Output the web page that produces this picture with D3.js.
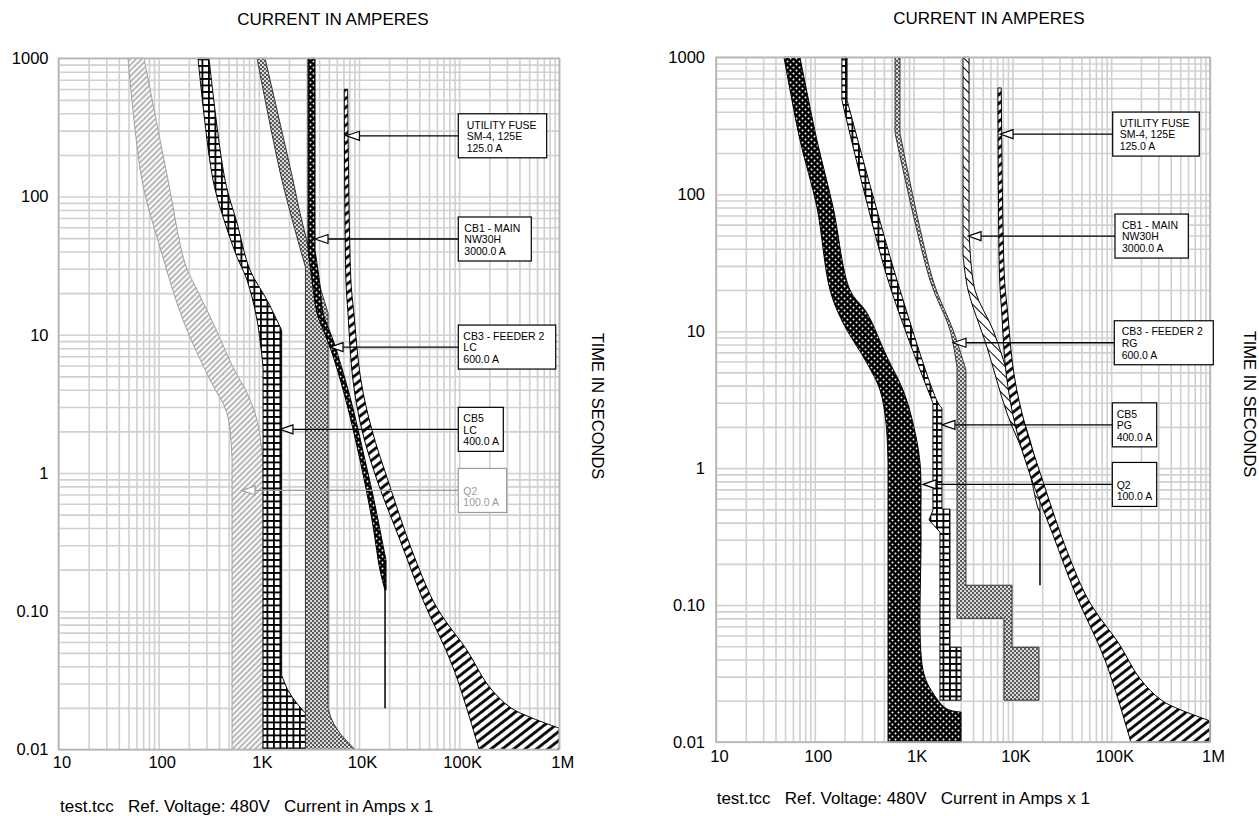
<!DOCTYPE html>
<html><head><meta charset="utf-8">
<script src="https://cdn.jsdelivr.net/npm/d3@7"></script>
<style>
body{margin:0;background:#fff}
svg{display:block}
text{font-family:"Liberation Sans",Arial,Helvetica,sans-serif;fill:#000}
</style>
</head><body>
<svg id="chart" width="1259" height="816"></svg>
<script>
// ---------------- DATA ----------------
const xTickValues = [10, 100, 1000, 10000, 100000, 1000000];
const xTickLabels = ["10", "100", "1K", "10K", "100K", "1M"];
const yTickValues = [1000, 100, 10, 1, 0.1, 0.01];
const yTickLabels = ["1000", "100", "10", "1", "0.10", "0.01"];
const xTitle = "CURRENT IN AMPERES";
const yTitle = "TIME IN SECONDS";
const footerText = "test.tcc   Ref. Voltage: 480V   Current in Amps x 1";

// band outlines as [amperes, seconds]
const fuseBand = [[7130,597],[7410,24.9],[7760,14.4],[8710,4.70],[10710,2.04],[15140,0.889],[25700,0.327],[43650,0.120],[86900,0.0394],[158100,0.01],
  [1000000,0.01],[1000000,0.01426],[509000,0.01714],[322000,0.0202],[194000,0.0292],[119700,0.0523],[72100,0.0863],[54700,0.120],[33700,0.277],[19420,0.889],[13490,2.04],[10450,4.70],[8890,14.4],[8300,24.9],[7710,597]];

const leftQ2Band = [[49.4,1000],[68.2,131.6],[103,43.1],[175,12.8],[326,4.70],[481,2.71],[540,1.24],[540,0.01],
  [1102,0.01],[1102,1.24],[960,2.41],[762,3.79],[552,5.84],[349,12.2],[242,21.1],[183,33.0],[124,131.6],[71.5,1000]];
const leftCB5Band = [[247,1000],[349,131.6],[460,64.3],[606,36.5],[762,24.9],[960,12.8],[1102,5.84],[1102,0.01],
  [2920,0.01],[2920,0.0183],[2350,0.022],[1955,0.0268],[1690,0.0345],[1690,10.8],[1208,17.8],[817,29.4],[606,64.3],[460,131.6],[318,1000]];
const leftCB3Band = [[960,1000],[1702,131.6],[2920,30.9],[2920,0.01],
  [9120,0.01],[6460,0.0131],[5380,0.0163],[4910,0.0199],[4910,14.4],[3475,33.0],[2576,76.0],[2193,131.6],[1154,1000]];
const leftCB1Band = [[3098,1000],[3098,41.0],[3396,24.9],[3810,14.4],[5140,8.15],[7260,3.54],[10240,1.24],[13490,0.456],[16220,0.198],[18200,0.142],
  [18630,0.142],[18630,0.234],[17380,0.30],[14460,0.586],[11490,1.24],[8150,3.54],[5510,9.16],[4370,14.4],[4080,22.9],[3640,41.0],[3640,1000]];
const leftCB1Inst = [[18200,0.234],[18200,0.0199]];

const rightQ2Band = [[48.8,1000],[70.8,249],[105,80.6],[142.6,20.0],[193,11.5],[337,5.85],[457,3.72],[526,2.13],[551,1.09],[551,0.01],
  [3020,0.01],[3020,0.01656],[2180,0.0174],[1570,0.0228],[1245,0.0335],[1188,0.353],[1161,1.09],[986,2.13],[781,3.72],[538,6.47],[337,13.6],[227,20.0],[153,80.6],[105,249],[70.8,1000]];
const rightCB5Band = [[188,1000],[188,488],[551,23.6],[1570,2.99],[1570,0.493],[1432,0.418],[1849,0.341],[1849,0.0202],
  [3020,0.0202],[3020,0.0492],[2334,0.0492],[2334,0.502],[1936,0.502],[1936,2.74],[1766,2.99],[679,23.6],[212,488],[212,1000]];
const rightCB3Band = [[649,1000],[649,280],[1466,23.6],[2334,10.2],[2748,5.46],[2748,0.080],[8220,0.080],[8220,0.0202],
  [18580,0.0202],[18580,0.0492],[9910,0.0492],[9910,0.1396],[3390,0.1396],[3390,5.2],[2505,10.2],[1570,23.6],[728,280],[728,1000]];
const rightCB1Band = [[3162,1000],[3162,36.0],[3556,19.95],[5530,7.65],[8810,2.52],[14060,1.09],[18160,0.51],[19020,0.477],
  [19020,0.818],[15060,1.60],[10140,3.72],[6370,10.2],[4180,19.95],[3640,54.7],[3640,1000]];
const rightCB1Inst = [[19020,0.477],[19020,0.1396]];

// device labels: text lines and the point on the curve the arrow touches [A, s]
const fuseLabelLines = ["UTILITY FUSE", "SM-4, 125E", "125.0 A"];
const cb1LabelLines = ["CB1 - MAIN", "NW30H", "3000.0 A"];
const cb3LeftLabelLines = ["CB3 - FEEDER 2", "LC", "600.0 A"];
const cb3RightLabelLines = ["CB3 - FEEDER 2", "RG", "600.0 A"];
const cb5LeftLabelLines = ["CB5", "LC", "400.0 A"];
const cb5RightLabelLines = ["CB5", "PG", "400.0 A"];
const q2LabelLines = ["", "Q2", "100.0 A"];
const leftArrowTips = [[7500,275],[3640,49.3],[5140,8.15],[1626,2.07],[679,0.748]];
const rightArrowTips = [[7500,275],[3556,49.5],[2505,8.23],[1936,2.07],[1245,0.76]];

// ---------------- DRAWING ----------------
const svg = d3.select("#chart");
const defs = svg.append("defs");
function pattern(id, w, h, tr) {
  const p = defs.append("pattern").attr("id", id).attr("patternUnits", "userSpaceOnUse")
    .attr("width", w).attr("height", h);
  if (tr) p.attr("patternTransform", tr);
  return p;
}
let p;
p = pattern("pLight", 4, 4, "rotate(45)");
p.append("rect").attr("width", 4).attr("height", 4).attr("fill", "#fbfbfb");
p.append("line").attr("x1", 2).attr("x2", 2).attr("y1", 0).attr("y2", 4).attr("stroke", "#a8a8a8").attr("stroke-width", 1.6);

p = pattern("pGrid", 6.5, 6.5);
p.append("rect").attr("width", 6.5).attr("height", 6.5).attr("fill", "#fff");
p.append("path").attr("d", "M0,0.9H6.5M0.9,0V6.5").attr("stroke", "#000").attr("stroke-width", 1.8);

p = pattern("pChk", 4, 4);
p.append("rect").attr("width", 4).attr("height", 4).attr("fill", "#d9d9d9");
p.append("rect").attr("width", 2).attr("height", 2).attr("fill", "#5a5a5a");
p.append("rect").attr("x", 2).attr("y", 2).attr("width", 2).attr("height", 2).attr("fill", "#5a5a5a");

p = pattern("pDots", 6, 6);
p.append("rect").attr("width", 6).attr("height", 6).attr("fill", "#000");
p.append("circle").attr("cx", 1.5).attr("cy", 1.5).attr("r", 1).attr("fill", "#fff");
p.append("circle").attr("cx", 4.5).attr("cy", 4.5).attr("r", 1).attr("fill", "#fff");

p = pattern("pStripe", 10, 7, "rotate(-38)");
p.append("rect").attr("width", 10).attr("height", 7).attr("fill", "#fff");
p.append("line").attr("x1", 0).attr("x2", 10).attr("y1", 3.5).attr("y2", 3.5).attr("stroke", "#000").attr("stroke-width", 2.8);

p = pattern("pHatch", 10, 7, "rotate(45)");
p.append("rect").attr("width", 10).attr("height", 7).attr("fill", "#fff");
p.append("line").attr("x1", 0).attr("x2", 10).attr("y1", 3.5).attr("y2", 3.5).attr("stroke", "#000").attr("stroke-width", 1);

// closed outline: smooth (centripetal Catmull-Rom) between corners, straight at corners
const smoothRun = d3.line().curve(d3.curveCatmullRom.alpha(0.5));
function bandPath(data, x, y) {
  const pts = data.map(d => [x(d[0]), y(d[1])]);
  const n = pts.length;
  const corner = pts.map((pt, i) => {
    const a = pts[(i - 1 + n) % n], b = pts[(i + 1) % n];
    const dx1 = pt[0] - a[0], dy1 = pt[1] - a[1], dx2 = b[0] - pt[0], dy2 = b[1] - pt[1];
    if (Math.abs(dx1) < 0.05 || Math.abs(dy1) < 0.05 || Math.abs(dx2) < 0.05 || Math.abs(dy2) < 0.05) return true;
    let t = Math.abs(Math.atan2(dy2, dx2) - Math.atan2(dy1, dx1));
    if (t > Math.PI) t = 2 * Math.PI - t;
    return t > 0.7;
  });
  corner[0] = true;
  let d = `M${pts[0][0]},${pts[0][1]}`;
  let run = [pts[0]];
  for (let k = 1; k <= n; k++) {
    const i = k % n;
    run.push(pts[i]);
    if (corner[i]) {
      if (run.length === 2) d += `L${pts[i][0]},${pts[i][1]}`;
      else d += smoothRun(run).replace(/^M[^CLZ]*/, "");
      run = [pts[i]];
    }
  }
  return d + "Z";
}

const panels = [
  {
    x0: 58.5, x1: 559.3, y0: 58.3, y1: 749.5,
    titleX: 333, titleY: 25, yTitleX: 592, yTitleY: 406, footX: 60, footY: 812,
    xPad: 7, yPad: 10,
    bands: [
      {data: leftQ2Band, fill: "url(#pLight)", stroke: "#a0a0a0"},
      {data: leftCB5Band, fill: "url(#pGrid)", stroke: "#000"},
      {data: leftCB3Band, fill: "url(#pChk)", stroke: "#333"},
      {data: leftCB1Band, fill: "url(#pDots)", stroke: "#000"},
      {data: fuseBand, fill: "url(#pStripe)", stroke: "#000"}
    ],
    lines: [leftCB1Inst],
    labels: [
      {lines: fuseLabelLines, tip: leftArrowTips[0], bx: 458.3, bw: 88.4, dx: 8.4, color: "#000"},
      {lines: cb1LabelLines, tip: leftArrowTips[1], bx: 458.3, bw: 73, dx: 6, color: "#000"},
      {lines: cb3LeftLabelLines, tip: leftArrowTips[2], bx: 458.3, bw: 97.4, dx: 5, color: "#000"},
      {lines: cb5LeftLabelLines, tip: leftArrowTips[3], bx: 458.3, bw: 45, dx: 5, color: "#000"},
      {lines: q2LabelLines, tip: leftArrowTips[4], bx: 458.3, bw: 48.4, dx: 5, color: "#9a9a9a"}
    ]
  },
  {
    x0: 716, x1: 1210, y0: 57.3, y1: 742,
    titleX: 989, titleY: 24, yTitleX: 1244, yTitleY: 404, footX: 716.7, footY: 804,
    xPad: 8, yPad: 11,
    bands: [
      {data: rightQ2Band, fill: "url(#pDots)", stroke: "#000"},
      {data: rightCB5Band, fill: "url(#pGrid)", stroke: "#000"},
      {data: rightCB3Band, fill: "url(#pChk)", stroke: "#333"},
      {data: rightCB1Band, fill: "url(#pHatch)", stroke: "#000"},
      {data: fuseBand, fill: "url(#pStripe)", stroke: "#000"}
    ],
    lines: [rightCB1Inst],
    labels: [
      {lines: fuseLabelLines, tip: rightArrowTips[0], bx: 1112.7, bw: 86.6, dx: 7, color: "#000"},
      {lines: cb1LabelLines, tip: rightArrowTips[1], bx: 1115, bw: 73.3, dx: 7, color: "#000"},
      {lines: cb3RightLabelLines, tip: rightArrowTips[2], bx: 1114.3, bw: 99, dx: 7.4, color: "#000"},
      {lines: cb5RightLabelLines, tip: rightArrowTips[3], bx: 1112.3, bw: 44.4, dx: 4.4, color: "#000"},
      {lines: q2LabelLines, tip: rightArrowTips[4], bx: 1112.3, bw: 44.4, dx: 4.4, color: "#000"}
    ]
  }
];

panels.forEach(P => {
  const g = svg.append("g");
  const x = d3.scaleLog().domain([10, 1e6]).range([P.x0, P.x1]);
  const y = d3.scaleLog().domain([0.01, 1000]).range([P.y1, P.y0]);
  const w = P.x1 - P.x0, h = P.y1 - P.y0;

  // grid
  const gx = g.append("g").attr("transform", `translate(0,${P.y1})`)
    .call(d3.axisBottom(x).ticks(10).tickSize(-h).tickFormat(""));
  const gy = g.append("g").attr("transform", `translate(${P.x0},0)`)
    .call(d3.axisLeft(y).ticks(10).tickSize(-w).tickFormat(""));
  [gx, gy].forEach(a => {
    a.select(".domain").remove();
    a.selectAll("line").attr("stroke", "#d0d0d0").attr("stroke-width", 1.6);
  });

  // bands
  P.bands.forEach(b => {
    g.append("path").attr("d", bandPath(b.data, x, y))
      .attr("fill", b.fill).attr("stroke", b.stroke).attr("stroke-width", 1)
      .attr("stroke-linejoin", "miter");
  });
  const line = d3.line().x(d => x(d[0])).y(d => y(d[1]));
  P.lines.forEach(l => {
    g.append("path").attr("d", line(l)).attr("fill", "none").attr("stroke", "#000").attr("stroke-width", 1.5);
  });

  // border
  g.append("rect").attr("x", P.x0).attr("y", P.y0).attr("width", w).attr("height", h)
    .attr("fill", "none").attr("stroke", "#b4b4b4").attr("stroke-width", 1.6);

  // tick labels
  const ax = g.append("g").attr("transform", `translate(0,${P.y1})`)
    .call(d3.axisBottom(x).tickValues(xTickValues).tickFormat((d, i) => xTickLabels[i]).tickSize(0).tickPadding(P.xPad));
  const ay = g.append("g").attr("transform", `translate(${P.x0},0)`)
    .call(d3.axisLeft(y).tickValues(yTickValues).tickFormat((d, i) => yTickLabels[i]).tickSize(0).tickPadding(P.yPad));
  [ax, ay].forEach(a => {
    a.select(".domain").remove();
    a.selectAll("text").attr("font-size", 16.5).attr("font-family", "Liberation Sans, Arial, sans-serif").attr("fill", "#000");
  });
  ax.selectAll("text").attr("dx", 3);

  // titles
  g.append("text").attr("x", P.titleX).attr("y", P.titleY).attr("text-anchor", "middle")
    .attr("font-size", 17).text(xTitle);
  g.append("text").attr("transform", `translate(${P.yTitleX},${P.yTitleY}) rotate(90)`)
    .attr("text-anchor", "middle").attr("font-size", 16.5).text(yTitle);
  g.append("text").attr("x", P.footX).attr("y", P.footY).attr("font-size", 17)
    .attr("xml:space", "preserve").style("white-space", "pre").text(footerText);

  // labels
  P.labels.forEach(L => {
    const ty = y(L.tip[1]), tx = x(L.tip[0]);
    const top = ty - 22;
    g.append("line").attr("x1", L.bx).attr("x2", tx + 13).attr("y1", ty).attr("y2", ty)
      .attr("stroke", L.color).attr("stroke-width", 1.3);
    g.append("path").attr("d", `M${tx},${ty}L${tx + 13},${ty - 4.5}L${tx + 13},${ty + 4.5}Z`)
      .attr("fill", "#fff").attr("stroke", L.color).attr("stroke-width", 1.2);
    g.append("rect").attr("x", L.bx).attr("y", top).attr("width", L.bw).attr("height", 44)
      .attr("fill", "#fff").attr("stroke", L.color).attr("stroke-width", 1.2);
    L.lines.forEach((s, i) => {
      g.append("text").attr("x", L.bx + L.dx).attr("y", top + 14.7 + i * 11.6)
        .attr("font-size", 10.5).style("fill", L.color).text(s);
    });
  });
});
</script>
</body></html>
